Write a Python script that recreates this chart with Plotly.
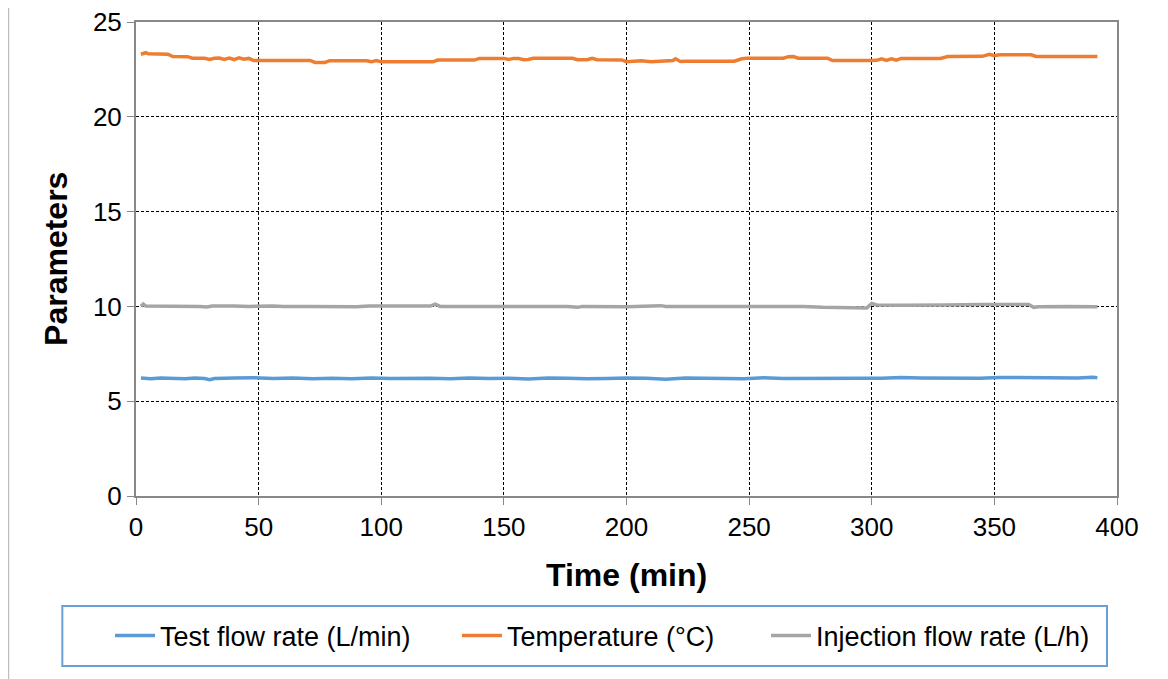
import plotly.graph_objects as go

# ---- data ----
flow_t = [2, 6, 10, 16, 20, 24, 28, 30, 32, 40, 48, 56, 64, 72, 80, 88, 96, 104, 112, 120,
          128, 136, 144, 152, 160, 168, 176, 184, 192, 200, 208, 216, 224, 232, 240, 248,
          256, 264, 272, 280, 288, 296, 304, 312, 320, 328, 336, 344, 352, 360, 368, 376,
          384, 390, 392]
flow_v = [6.22, 6.19, 6.22, 6.21, 6.18, 6.22, 6.20, 6.14, 6.20, 6.22, 6.24, 6.20, 6.22, 6.18,
          6.21, 6.18, 6.23, 6.20, 6.22, 6.21, 6.18, 6.22, 6.20, 6.21, 6.17, 6.22, 6.21, 6.18,
          6.20, 6.23, 6.21, 6.16, 6.22, 6.23, 6.20, 6.18, 6.24, 6.20, 6.21, 6.22, 6.24, 6.21,
          6.21, 6.25, 6.23, 6.22, 6.25, 6.21, 6.25, 6.24, 6.22, 6.22, 6.23, 6.26, 6.24]

temp_t = [2, 4, 5, 8, 13, 15, 21, 23, 28, 30, 32, 34, 36, 38, 40, 42, 44, 46, 48, 60, 71, 73,
          77, 79, 94, 96, 98, 100, 110, 121, 123, 138, 140, 150, 152, 154, 156, 158, 160, 162,
          178, 180, 184, 186, 188, 198, 200, 204, 206, 210, 216, 219, 220, 222, 224, 244, 247,
          249, 264, 266, 268, 270, 282, 284, 300, 302, 304, 306, 308, 310, 312, 328, 331, 345,
          348, 350, 352, 365, 367, 392]
temp_v = [23.30, 23.38, 23.32, 23.30, 23.30, 23.18, 23.17, 23.09, 23.09, 23.02, 23.09, 23.10,
          23.02, 23.10, 23.02, 23.11, 23.04, 23.08, 22.97, 22.97, 22.97, 22.87, 22.87, 22.96,
          22.96, 22.90, 22.97, 22.90, 22.90, 22.90, 22.99, 22.99, 23.08, 23.08, 23.03, 23.08,
          23.08, 23.01, 23.02, 23.09, 23.09, 23.01, 23.01, 23.09, 23.01, 23.00, 22.91, 22.91,
          22.95, 22.90, 22.94, 22.97, 23.06, 22.92, 22.93, 22.93, 23.06, 23.09, 23.09, 23.17,
          23.18, 23.09, 23.09, 22.97, 22.97, 22.98, 23.06, 22.98, 23.06, 22.99, 23.08, 23.08,
          23.18, 23.19, 23.30, 23.22, 23.27, 23.27, 23.18, 23.18]

inj_t = [2, 3, 4, 10, 14, 20, 26, 29, 31, 40, 46, 56, 60, 70, 80, 90, 95, 105, 110, 120, 122,
         124, 140, 160, 176, 180, 182, 200, 210, 214, 216, 240, 260, 272, 280, 296, 298, 300,
         302, 312, 318, 330, 345, 358, 362, 364, 366, 368, 380, 392]
inj_v = [10.00, 10.12, 10.02, 10.02, 10.00, 10.03, 10.00, 9.97, 10.02, 10.02, 10.00, 10.02,
         10.00, 10.00, 9.98, 9.98, 10.02, 10.01, 10.04, 10.02, 10.12, 10.00, 10.00, 10.00,
         10.00, 9.95, 10.00, 9.98, 10.02, 10.04, 10.00, 10.00, 10.00, 10.00, 9.95, 9.92, 9.92,
         10.15, 10.08, 10.06, 10.05, 10.07, 10.10, 10.10, 10.13, 10.10, 9.95, 9.98, 10.00, 9.98]

x_ticks = [0, 50, 100, 150, 200, 250, 300, 350, 400]
y_ticks = [0, 5, 10, 15, 20, 25]

names = ["Test flow rate (L/min)", "Temperature (°C)", "Injection flow rate (L/h)"]
colors = ["#5B9BD5", "#ED7D31", "#A5A5A5"]
legend_ids = ["legend", "legend2", "legend3"]

FONT = "Liberation Sans, Arial, sans-serif"

fig = go.Figure()
for t, v, n, c, lg in [(flow_t, flow_v, names[0], colors[0], legend_ids[0]),
                       (temp_t, temp_v, names[1], colors[1], legend_ids[1]),
                       (inj_t, inj_v, names[2], colors[2], legend_ids[2])]:
    fig.add_trace(go.Scatter(x=t, y=v, name=n, mode="lines", legend=lg,
                             line=dict(color=c, width=3.5)))

axis_common = dict(
    showline=True, linecolor="#888888", linewidth=2, mirror=True,
    ticks="outside", ticklen=7, tickcolor="#888888", tickwidth=1,
    showgrid=True, gridcolor="#000000", gridwidth=1, griddash="3px,2px",
    zeroline=False, ticklabeloverflow="allow", automargin=False,
    tickfont=dict(family=FONT, size=26, color="#000000"),
)

fig.update_xaxes(range=[0, 400], tickvals=x_ticks, **axis_common)
fig.update_yaxes(range=[0, 25], tickvals=y_ticks, **axis_common)

leg_common = dict(orientation="h", xanchor="left", y=-0.295, yanchor="middle",
                  font=dict(family=FONT, size=27, color="#000000"),
                  bgcolor="rgba(0,0,0,0)", borderwidth=0, itemwidth=40)

fig.update_layout(
    width=1160, height=671,
    margin=dict(l=128, r=51, t=14, b=183, autoexpand=False),
    paper_bgcolor="white", plot_bgcolor="white",
    font=dict(family=FONT, color="#000000"),
    showlegend=True,
    legend=dict(x=-0.0265, **leg_common),
    legend2=dict(x=0.3272, **leg_common),
    legend3=dict(x=0.6422, **leg_common),
    annotations=[
        dict(text="<b>Time (min)</b>", xref="paper", yref="paper", x=0.5, y=-0.1667,
             xanchor="center", yanchor="middle", showarrow=False,
             font=dict(family=FONT, size=32, color="#000000")),
        dict(text="<b>Parameters</b>", xref="paper", yref="paper", x=-0.0816, y=0.5,
             xanchor="center", yanchor="middle", showarrow=False, textangle=-90,
             font=dict(family=FONT, size=32, color="#000000")),
    ],
    shapes=[
        dict(type="rect", xref="paper", yref="paper", x0=-0.0751, x1=0.9898,
             y0=-0.3586, y1=-0.2321, line=dict(color="#6A9FD6", width=2),
             fillcolor="rgba(0,0,0,0)"),
        dict(type="line", xref="paper", yref="paper", x0=-0.1300, x1=-0.1300,
             y0=-0.40, y1=1.1, line=dict(color="#BDBDBD", width=1.5)),
    ],
)

fig.write_html("out.html")
